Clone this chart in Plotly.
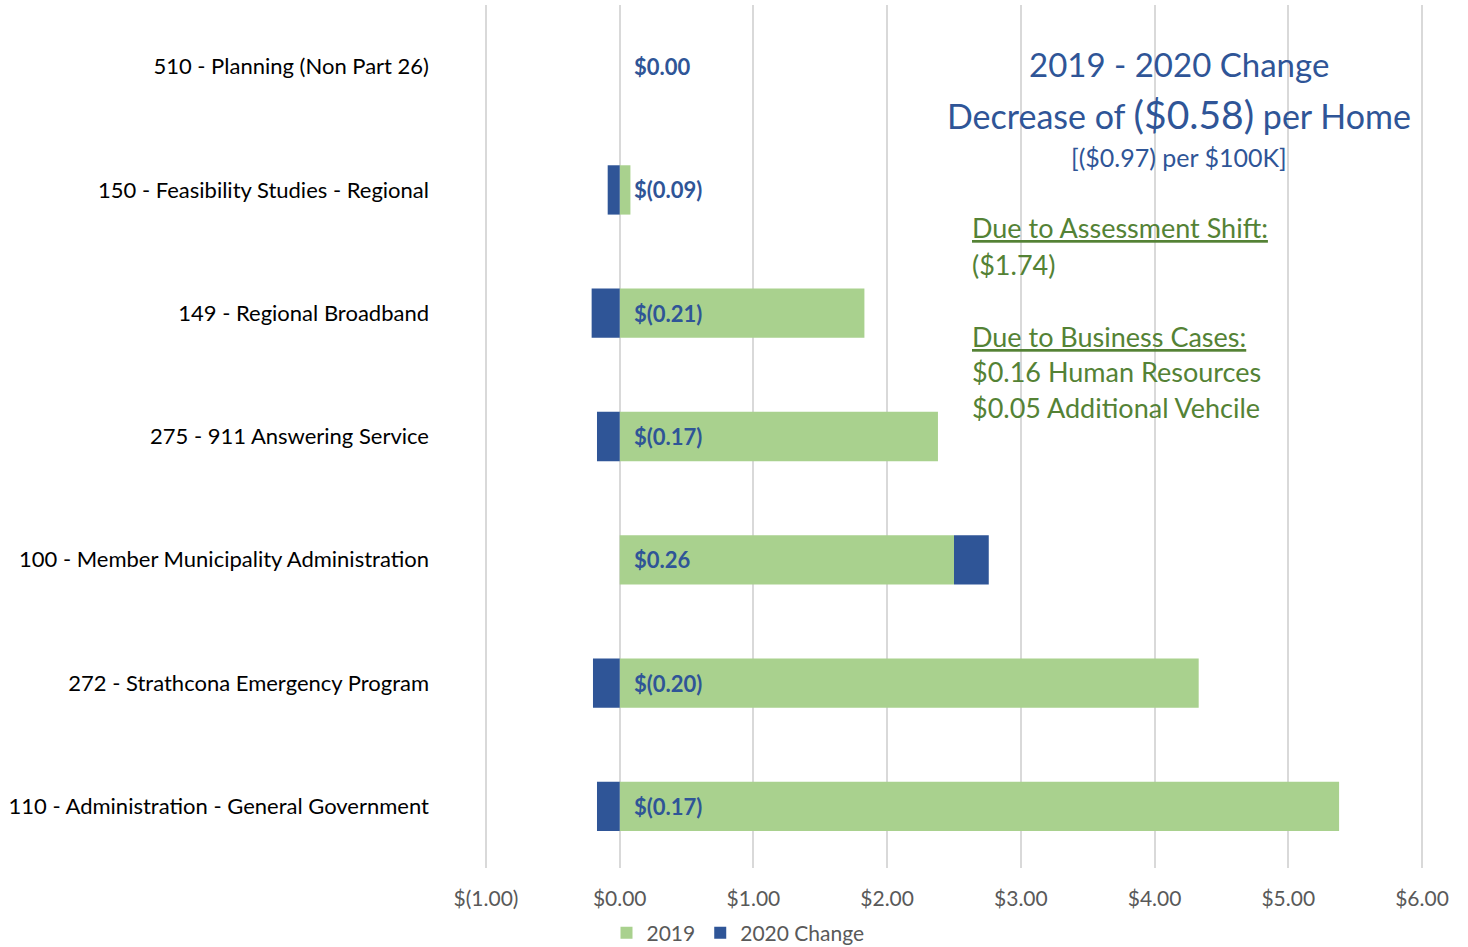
import plotly.graph_objects as go

# Programs, listed top to bottom
programs = [
    "510 - Planning (Non Part 26)",
    "150 - Feasibility Studies - Regional",
    "149 - Regional Broadband",
    "275 - 911 Answering Service",
    "100 - Member Municipality Administration",
    "272 - Strathcona Emergency Program",
    "110 - Administration - General Government",
]
cost_2019 = [0.00, 0.08, 1.83, 2.38, 2.50, 4.33, 5.38]
change_2020 = [0.00, -0.09, -0.21, -0.17, 0.26, -0.20, -0.17]

tick_vals = [-1, 0, 1, 2, 3, 4, 5, 6]
tick_text = ["$(1.00)", "$0.00", "$1.00", "$2.00", "$3.00", "$4.00", "$5.00", "$6.00"]

GREEN = "#A9D18E"
BLUE = "#2F5597"
TEXT_GREEN = "#548235"
FONT = "Lato"

W, H = 1468, 947
# plot box is padded by a few pixels so the outer gridlines at -1 and 6 are drawn
L, R, T, B = 482, 1426, 5, 868
PAD = 0.03


def px(x):
    return (x - L) / (R - L)


def py(y):
    return (B - y) / (B - T)


def money(v):
    return f"$({abs(v):.2f})" if v < 0 else f"${v:.2f}"


fig = go.Figure()
fig.add_trace(go.Bar(
    name="2019", y=programs, x=cost_2019, orientation="h",
    marker=dict(color=GREEN, line=dict(width=0)),
))
fig.add_trace(go.Bar(
    name="2020 Change", y=programs, x=change_2020, orientation="h",
    marker=dict(color=BLUE, line=dict(width=0)),
))

# value labels for the change, placed just right of zero
for p, c in zip(programs, change_2020):
    fig.add_annotation(
        x=0, y=p, xref="x", yref="y", text=f"<b>{money(c)}</b>",
        showarrow=False, xanchor="left", yanchor="middle", xshift=12,
        font=dict(family=FONT, size=22, color=BLUE),
    )

# headline box on the right
cx = px(1179)
fig.add_annotation(
    x=cx, y=py(64), xref="paper", yref="paper", text="2019 - 2020 Change",
    showarrow=False, xanchor="center", yanchor="middle",
    font=dict(family=FONT, size=33, color=BLUE),
)
fig.add_annotation(
    x=cx, y=py(114), xref="paper", yref="paper",
    text="Decrease of <span style='font-size:39px'>($0.58)</span> per Home",
    showarrow=False, xanchor="center", yanchor="middle",
    font=dict(family=FONT, size=34, color=BLUE),
)
fig.add_annotation(
    x=cx, y=py(157), xref="paper", yref="paper", text="[($0.97) per $100K]",
    showarrow=False, xanchor="center", yanchor="middle",
    font=dict(family=FONT, size=25, color=BLUE),
)

notes = [
    (228, "<u>Due to Assessment Shift:</u>"),
    (264, "($1.74)"),
    (336, "<u>Due to Business Cases:</u>"),
    (371, "$0.16 Human Resources"),
    (407, "$0.05 Additional Vehcile"),
]
for yy, txt in notes:
    fig.add_annotation(
        x=px(970), y=py(yy), xref="paper", yref="paper", text=txt,
        showarrow=False, xanchor="left", yanchor="middle",
        font=dict(family=FONT, size=27, color=TEXT_GREEN),
    )

fig.update_layout(
    width=W, height=H,
    barmode="relative", bargap=0.6,
    plot_bgcolor="white", paper_bgcolor="white",
    margin=dict(l=L, r=W - R, t=T, b=H - B, autoexpand=False),
    font=dict(family=FONT, size=20, color="#000000"),
    showlegend=True,
    legend=dict(
        orientation="h", x=px(738), xanchor="center", y=py(933), yanchor="middle",
        font=dict(family=FONT, size=21, color="#595959"),
        itemwidth=30, traceorder="normal",
    ),
)
fig.update_xaxes(
    range=[-1 - PAD, 6 + PAD], tickvals=tick_vals, ticktext=tick_text,
    showgrid=True, gridcolor="#D9D9D9", gridwidth=2,
    zeroline=True, zerolinecolor="#D9D9D9", zerolinewidth=2,
    showline=False, ticks="",
    tickfont=dict(family=FONT, size=21, color="#595959"),
    ticklabelstandoff=16,
)
fig.update_yaxes(
    categoryorder="array", categoryarray=programs, autorange="reversed",
    showgrid=False, zeroline=False, showline=False, ticks="",
    tickfont=dict(family=FONT, size=22, color="#000000"),
    ticklabelstandoff=52,
)

fig.write_html("out.html")
